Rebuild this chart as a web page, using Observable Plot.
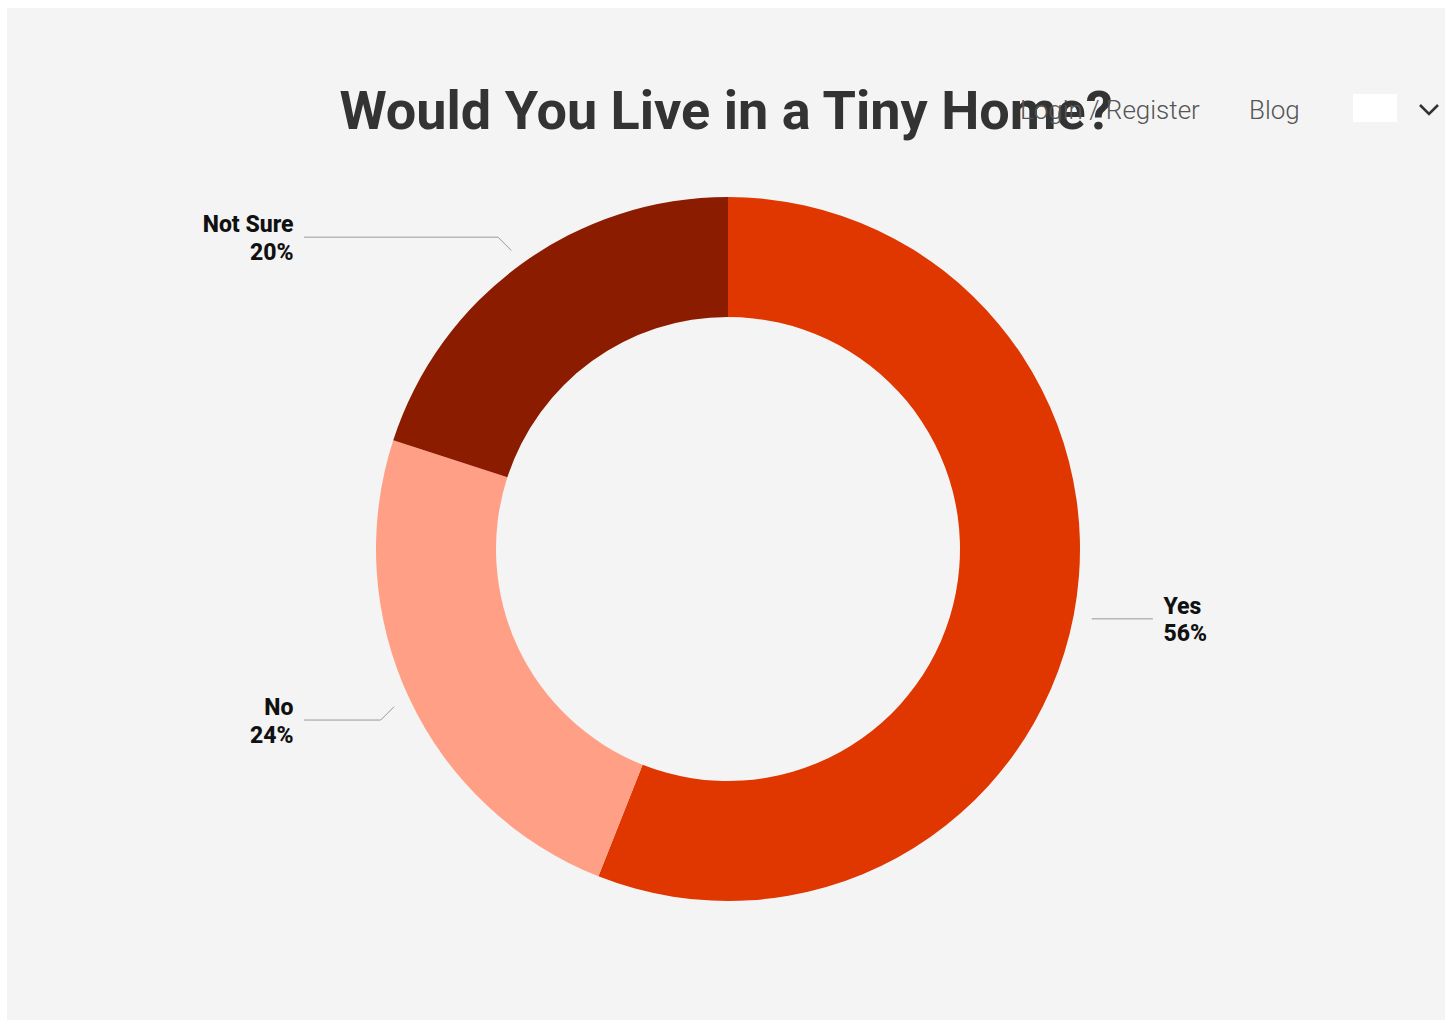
<!DOCTYPE html>
<html>
<head>
<meta charset="utf-8">
<script src="https://cdn.jsdelivr.net/npm/d3@7"></script>
<script src="https://cdn.jsdelivr.net/npm/@observablehq/plot@0.6"></script>
<style>
  html, body { margin: 0; padding: 0; background: #ffffff; width: 1453px; height: 1020px; overflow: hidden; }
  #panel { position: absolute; left: 7px; top: 8px; width: 1438px; height: 1012px; background: #f4f4f4; }
  #title { position: absolute; left: 0; width: 1438px; top: 73px; text-align: center;
           font-family: Roboto, sans-serif; font-weight: 700; font-size: 54px; color: #333333; line-height: 60px; }
  .nav { position: absolute; font-family: Roboto, sans-serif; font-weight: 300; font-size: 26px; color: #555555; line-height: 30px; }
  #chart { position: absolute; left: 0; top: 160px; }
  #swatch { position: absolute; left: 1346px; top: 86px; width: 44px; height: 28px; background: #ffffff; }
  #chev { position: absolute; left: 1410px; top: 92px; }
</style>
</head>
<body>
<div id="panel">
  <div id="title">Would You Live in a Tiny Home?</div>
  <div class="nav" style="left:1013px; top:87px;">Login / Register</div>
  <div class="nav" style="left:1242px; top:87px;">Blog</div>
  <div id="swatch"></div>
  <svg id="chev" width="26" height="20"><polyline points="3,5 12,14 21,5" fill="none" stroke="#333" stroke-width="2.6"/></svg>
  <div id="chart"></div>
</div>
<script>
// ---- data ----
const categories = ["Yes", "No", "Not Sure"];
const shares = [56, 24, 20];
const colors = ["#e03600", "#ffa086", "#8b1c00"];

// ---- layout ----
const W = 1438, H = 800;
const cx = 721, cy = 381;           // donut centre within the svg (px)
const outerR = 352, innerR = 232;

const data = categories.map((c, i) => ({category: c, value: shares[i], color: colors[i]}));
const arcs = d3.pie().sort(null).value(d => d.value)(data);

// label geometry derived from slice mid-angles
const labels = [];
const leaders = [];
arcs.forEach(a => {
  const mid = (a.startAngle + a.endAngle) / 2;
  const sx = Math.sin(mid) * (outerR + 18);
  const sy = -Math.cos(mid) * (outerR + 18);
  const side = sx >= 0 ? 1 : -1;
  let ex = sx, ey = sy;
  if (Math.abs(Math.cos(mid)) > 0.3) { ex = sx + side * 13; ey = sy + Math.sign(sy) * 13; }
  const endX = side * 424;
  leaders.push({category: a.data.category, x: sx, y: sy});
  leaders.push({category: a.data.category, x: ex, y: ey});
  leaders.push({category: a.data.category, x: endX, y: ey});
  labels.push({x: side * 435, y: ey, side, text: `${a.data.category}\n${a.data.value}%`});
});

function donut(index, scales, values, dimensions, context) {
  const x0 = scales.x(0), y0 = scales.y(0);
  const k = scales.x(1) - scales.x(0);
  const arc = d3.arc().innerRadius(innerR * k).outerRadius(outerR * k);
  const g = d3.create("svg:g").attr("transform", `translate(${x0},${y0})`);
  g.selectAll("path").data(arcs).join("path")
    .attr("d", arc)
    .attr("fill", d => d.data.color);
  return g.node();
}

const textStyle = {
  x: "x", y: "y", text: "text",
  lineAnchor: "middle",
  lineHeight: 1.2,
  fontSize: 23,
  fontWeight: 800,
  fontFamily: "Roboto, sans-serif",
  fill: "#111111"
};

const chart = Plot.plot({
  width: W,
  height: H,
  margin: 0,
  style: {background: "transparent", overflow: "visible"},
  x: {domain: [-cx, W - cx], range: [0, W], axis: null},
  y: {domain: [-cy, H - cy], range: [0, H], axis: null},
  marks: [
    donut,
    Plot.line(leaders, {x: "x", y: "y", z: "category", stroke: "#999999", strokeWidth: 1}),
    Plot.text(labels.filter(d => d.side > 0), {...textStyle, textAnchor: "start"}),
    Plot.text(labels.filter(d => d.side < 0), {...textStyle, textAnchor: "end"})
  ]
});
document.getElementById("chart").appendChild(chart);
</script>
</body>
</html>
